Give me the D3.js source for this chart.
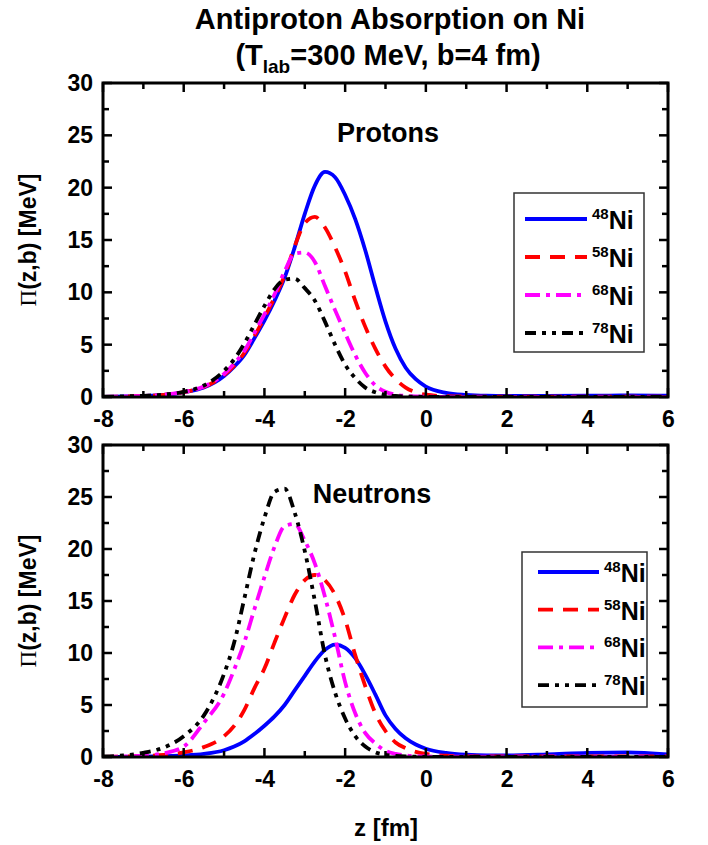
<!DOCTYPE html>
<html><head><meta charset="utf-8">
<script src="https://cdn.jsdelivr.net/npm/d3@7"></script>
<style>
body{margin:0;background:#fff;}
text{font-family:"Liberation Sans",Arial,sans-serif;font-weight:bold;fill:#000;}
</style></head>
<body><svg id="c" width="708" height="845"></svg>
<script>
// ---- data ----
const zGrid = [-8,-7.5,-7,-6.5,-6,-5.5,-5,-4.75,-4.5,-4.25,-4,-3.75,-3.5,-3.25,-3,-2.75,-2.5,-2.25,-2,-1.75,-1.5,-1.25,-1,-0.75,-0.5,-0.25,0,0.5,1,1.5,2,3,4,5,6];
const isotopes = ["48","58","68","78"];
// Protons panel
const p48 = [0.02,0.05,0.1,0.2,0.45,0.9,2.0,2.9,4.0,5.6,7.3,9.2,11.4,14.3,17.5,20.2,21.5,21.0,19.3,17.0,14.0,10.5,7.2,4.6,2.8,1.7,1.0,0.4,0.2,0.12,0.1,0.1,0.12,0.15,0.12];
const p58 = [0.02,0.05,0.1,0.2,0.46,0.95,2.1,3.0,4.2,5.8,7.6,9.5,11.6,14.4,16.6,17.2,16.2,14.3,12.0,9.2,6.7,4.6,2.9,1.7,0.9,0.45,0.22,0.08,0.05,0.04,0.04,0.04,0.04,0.04,0.04];
const p68 = [0.02,0.05,0.1,0.21,0.48,1.0,2.2,3.2,4.4,6.1,7.9,9.8,12.0,13.7,13.8,12.9,10.6,8.3,6.1,4.0,2.3,1.1,0.5,0.22,0.1,0.05,0.03,0.02,0.02,0.02,0.02,0.02,0.02,0.02,0.02];
const p78 = [0.03,0.06,0.11,0.23,0.5,1.1,2.5,3.6,5.1,6.9,8.7,10.3,11.2,11.3,10.4,9.2,7.2,5.0,3.1,1.8,0.9,0.45,0.22,0.1,0.05,0.03,0.02,0.02,0.02,0.02,0.02,0.02,0.02,0.02,0.02];
// Neutrons panel
const n48 = [0.01,0.02,0.04,0.08,0.15,0.3,0.65,1.0,1.5,2.2,3.0,3.9,5.0,6.4,7.8,9.2,10.3,10.8,10.5,9.5,7.9,6.0,4.0,2.7,1.8,1.2,0.8,0.4,0.22,0.15,0.15,0.25,0.4,0.45,0.25];
const n58 = [0.02,0.04,0.1,0.2,0.45,0.95,2.0,3.0,4.5,6.6,8.5,11.0,13.4,15.6,17.0,17.5,17.0,15.6,13.2,9.8,6.8,4.2,2.5,1.4,0.85,0.5,0.3,0.12,0.06,0.05,0.05,0.05,0.05,0.05,0.05];
const n68 = [0.02,0.05,0.12,0.35,1.0,3.3,6.1,8.4,11.0,14.2,17.3,20.2,22.2,22.4,20.8,18.6,15.4,11.5,7.2,4.2,2.3,1.3,0.6,0.3,0.15,0.08,0.05,0.04,0.04,0.04,0.04,0.04,0.04,0.04,0.04];
const n78 = [0.05,0.15,0.4,0.9,2.0,4.0,8.0,11.0,15.2,19.5,23.0,25.5,25.8,23.5,19.8,15.0,9.8,6.2,3.7,2.0,1.0,0.45,0.2,0.1,0.05,0.03,0.02,0.02,0.02,0.02,0.02,0.02,0.02,0.02,0.02];
const xTicks = [-8,-6,-4,-2,0,2,4,6];
const yTicks = [0,5,10,15,20,25,30];
const panelNames = ["Protons","Neutrons"];

// ---- styles ----
const colors = ["#0000ff","#ff0000","#ff00ff","#000000"];
const dashes = [null,"15,10","15,6,4,6","11,6,4,6,4,6"];

const svg = d3.select("#c");
const L=103, R=668;
const panels = [
  {top:83,bottom:397,series:[p48,p58,p68,p78],name:panelNames[0],nameX:388,nameY:142,
   leg:{x:514,y:193,w:130,h:159,lx:525,lx2:587,tx:592,y0:219,dy:38}},
  {top:445,bottom:757,series:[n48,n58,n68,n78],name:panelNames[1],nameX:372,nameY:503,
   leg:{x:522,y:552,w:125,h:155,lx:538,lx2:599,tx:604,y0:572,dy:37.7}}
];
const x = d3.scaleLinear().domain([-8,6]).range([L,R]);

panels.forEach((p,pi)=>{
  const y = d3.scaleLinear().domain([0,30]).range([p.bottom,p.top]);
  const g = svg.append("g");
  const clipId = "clip"+pi;
  svg.append("clipPath").attr("id",clipId).append("rect")
    .attr("x",L).attr("y",p.top).attr("width",R-L).attr("height",p.bottom-p.top);
  const line = d3.line().x((d,i)=>x(zGrid[i])).y(d=>y(d)).curve(d3.curveMonotoneX);
  const lg = g.append("g").attr("clip-path",`url(#${clipId})`);
  p.series.forEach((s,si)=>{
    lg.append("path").attr("d",line(s)).attr("fill","none")
      .attr("stroke",colors[si]).attr("stroke-width",3.8)
      .attr("stroke-dasharray",dashes[si]);
  });
  // axes
  const xMinor = d3.range(-8,6.01,1);
  const yMinor = d3.range(0,30.01,2.5);
  const bottomAx = d3.axisBottom(x).tickValues(xTicks).tickFormat(d3.format("d")).tickSize(0).tickPadding(10);
  const ax = g.append("g").attr("transform",`translate(0,${p.bottom})`).call(bottomAx);
  ax.select(".domain").remove();
  ax.selectAll("text").attr("font-size",23).attr("dy","0.85em").text(d=>d<0?"-"+(-d):d);
  const leftAx = d3.axisLeft(y).tickValues(yTicks).tickSize(0).tickPadding(10);
  const ay = g.append("g").attr("transform",`translate(${L},0)`).call(leftAx);
  ay.select(".domain").remove();
  ay.selectAll("text").attr("font-size",23);
  // ticks (inward) on all sides
  const tg = g.append("g").attr("stroke","#000").attr("stroke-width",2.5);
  xMinor.forEach(v=>{
    const len = (Math.round(v)%2===0)?9:6;
    tg.append("line").attr("x1",x(v)).attr("x2",x(v)).attr("y1",p.bottom).attr("y2",p.bottom-len);
    tg.append("line").attr("x1",x(v)).attr("x2",x(v)).attr("y1",p.top).attr("y2",p.top+len);
  });
  yMinor.forEach(v=>{
    const len = (v%5===0)?9:6;
    tg.append("line").attr("x1",L).attr("x2",L+len).attr("y1",y(v)).attr("y2",y(v));
    tg.append("line").attr("x1",R).attr("x2",R-len).attr("y1",y(v)).attr("y2",y(v));
  });
  g.append("rect").attr("x",L).attr("y",p.top).attr("width",R-L).attr("height",p.bottom-p.top)
    .attr("fill","none").attr("stroke","#000").attr("stroke-width",3);
  // panel label
  g.append("text").attr("x",p.nameX).attr("y",p.nameY).attr("text-anchor","middle")
    .attr("font-size",27).text(p.name);
  // y label
  const yl = g.append("text").attr("transform",`translate(36,${(p.top+p.bottom)/2}) rotate(-90)`)
    .attr("text-anchor","middle").attr("font-size",23);
  yl.append("tspan").attr("style","font-family:'Liberation Serif','Times New Roman',serif;font-weight:normal").text("Π");
  yl.append("tspan").text("(z,b) [MeV]");
  // legend
  const lgd = p.leg;
  g.append("rect").attr("x",lgd.x).attr("y",lgd.y).attr("width",lgd.w).attr("height",lgd.h)
    .attr("fill","#fff").attr("stroke","#333").attr("stroke-width",1.5);
  isotopes.forEach((iso,i)=>{
    const yy = lgd.y0 + i*lgd.dy;
    g.append("line").attr("x1",lgd.lx).attr("x2",lgd.lx2).attr("y1",yy).attr("y2",yy)
      .attr("stroke",colors[i]).attr("stroke-width",3.8).attr("stroke-dasharray",dashes[i]);
    const t = g.append("text").attr("x",lgd.tx).attr("y",yy+10);
    t.append("tspan").attr("font-size",15).attr("dy",-10).text(iso);
    t.append("tspan").attr("font-size",25).attr("dy",10).text("Ni");
  });
});

// titles
svg.append("text").attr("x",390).attr("y",29).attr("text-anchor","middle").attr("font-size",29)
  .text("Antiproton Absorption on Ni");
const t2 = svg.append("text").attr("x",388).attr("y",65).attr("text-anchor","middle").attr("font-size",29);
t2.append("tspan").text("(T");
t2.append("tspan").attr("font-size",19).attr("dy",8).text("lab");
t2.append("tspan").attr("dy",-8).text("=300 MeV, b=4 fm)");
svg.append("text").attr("x",386).attr("y",836).attr("text-anchor","middle").attr("font-size",24).text("z [fm]");
</script></body></html>
